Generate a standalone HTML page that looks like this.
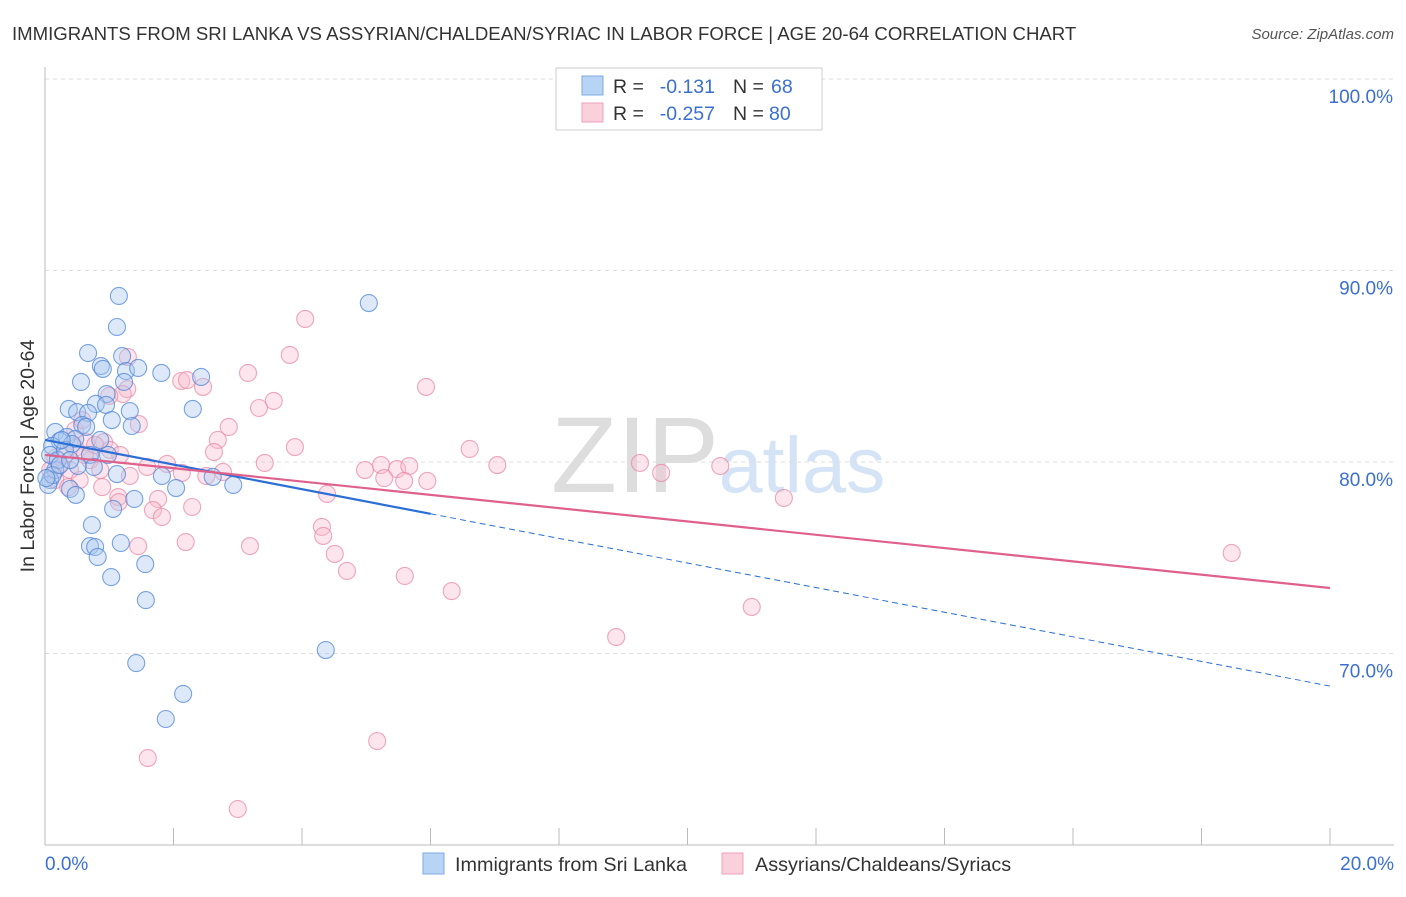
<!DOCTYPE html>
<html><head><meta charset="utf-8"><style>
body{margin:0;background:#fff;font-family:"Liberation Sans",sans-serif}
svg text{font-family:"Liberation Sans",sans-serif}
</style></head><body>
<svg id="c" width="1406" height="892">
<text x="12" y="40" font-size="18.6" fill="#333">IMMIGRANTS FROM SRI LANKA VS ASSYRIAN/CHALDEAN/SYRIAC IN LABOR FORCE | AGE 20-64 CORRELATION CHART</text>
<text x="1394" y="39" font-size="15" fill="#555" font-style="italic" text-anchor="end">Source: ZipAtlas.com</text>
<text x="635" y="492" font-size="108" fill="#ddd" font-family="Liberation Serif" text-anchor="middle">ZIP</text>
<text x="802" y="492" font-size="79" fill="#d4e3f5" text-anchor="middle">atlas</text>
<text transform="translate(34,456) rotate(-90)" font-size="19.6" fill="#333" text-anchor="middle">In Labor Force | Age 20-64</text>
<g id="grid"></g><g id="marks"></g><g id="lines"></g>
<g>
<rect x="556" y="68" width="266" height="62" fill="#fff" stroke="#ccc"/>
<rect x="582" y="76" width="21" height="19" fill="#b8d4f5" stroke="#7fa9e0"/>
<text x="613" y="93" font-size="19.5" fill="#333">R =</text>
<text x="715" y="93" font-size="19.5" fill="#3b6fd1" text-anchor="end">-0.131</text>
<text x="733" y="93" font-size="19.5" fill="#333">N =</text>
<text x="771" y="93" font-size="19.5" fill="#3b6fd1">68</text>
<rect x="582" y="103" width="21" height="19" fill="#fbd0dd" stroke="#eea0b8"/>
<text x="613" y="120" font-size="19.5" fill="#333">R =</text>
<text x="715" y="120" font-size="19.5" fill="#3b6fd1" text-anchor="end">-0.257</text>
<text x="733" y="120" font-size="19.5" fill="#333">N =</text>
<text x="769" y="120" font-size="19.5" fill="#3b6fd1">80</text>
</g>
<g>
<rect x="423" y="853" width="21" height="21" fill="#b8d4f5" stroke="#7fa9e0"/>
<text x="455" y="871" font-size="19.8" fill="#333">Immigrants from Sri Lanka</text>
<rect x="722" y="853" width="21" height="21" fill="#fbd0dd" stroke="#eea0b8"/>
<text x="755" y="871" font-size="19.8" fill="#333">Assyrians/Chaldeans/Syriacs</text>
</g>
</svg>
<script>
const yTicks=[100,90,80,70];
const xTickVals=[0,2,4,6,8,10,12,14,16,18,20];
const blueX=[1.15,1.12,0.67,1.20,0.87,0.90,1.26,1.45,1.81,2.43,0.56,1.23,0.96,0.79,0.95,0.37,0.50,0.67,1.32,2.30,1.04,0.58,0.64,1.35,0.16,0.34,0.47,0.23,0.11,0.42,0.98,0.70,0.76,0.51,0.16,0.08,0.05,1.12,1.82,2.61,2.04,2.93,0.39,0.48,1.39,1.06,0.73,1.18,0.70,0.78,0.82,1.56,1.03,1.57,1.42,2.15,1.88,4.37,5.04,0.08,0.20,0.31,0.12,0.23,0.02,0.39,0.26,0.86];
const blueY=[88.67,87.05,85.69,85.53,85.01,84.86,84.75,84.91,84.65,84.44,84.18,84.18,83.55,83.03,82.98,82.77,82.61,82.56,82.66,82.77,82.19,81.93,81.83,81.88,81.57,81.31,81.20,81.10,80.84,80.94,80.37,80.37,79.74,79.79,79.58,79.06,78.80,79.37,79.27,79.22,78.64,78.80,78.59,78.28,78.07,77.55,76.71,75.77,75.61,75.56,75.04,74.67,73.99,72.79,69.50,67.89,66.58,70.18,88.30,80.37,80.10,80.63,79.32,79.84,79.16,80.10,81.15,81.15];
const pinkX=[4.05,3.81,5.93,3.16,2.12,2.21,1.29,2.46,1.28,1.21,1.00,3.56,3.33,2.86,1.46,2.69,6.61,3.89,0.92,0.64,0.47,0.58,2.63,3.42,7.04,9.26,10.51,9.59,1.90,1.59,2.13,2.51,2.77,4.98,5.23,5.48,5.67,5.28,5.59,5.95,1.32,0.89,1.14,1.76,4.39,1.15,1.68,1.82,2.29,11.50,4.31,4.33,4.51,4.70,1.45,2.19,3.19,5.60,6.33,18.47,11.00,8.89,5.17,1.60,3.00,0.23,0.39,0.16,0.08,0.31,0.54,0.70,0.86,0.47,0.62,0.78,1.01,1.17,0.16,0.36];
const pinkY=[87.47,85.59,83.92,84.65,84.23,84.28,85.48,83.92,83.81,83.55,83.45,83.19,82.82,81.83,81.98,81.15,80.68,80.78,81.04,81.04,81.67,82.19,80.52,79.95,79.84,79.95,79.79,79.43,79.90,79.74,79.43,79.27,79.48,79.58,79.84,79.63,79.79,79.16,79.01,79.01,79.27,78.69,78.17,78.07,78.33,77.91,77.49,77.13,77.65,78.12,76.61,76.14,75.20,74.31,75.61,75.82,75.61,74.05,73.26,75.25,72.43,70.86,65.43,64.54,61.88,79.84,79.58,80.21,79.58,80.37,79.06,80.10,79.58,80.73,80.37,80.89,80.63,80.37,79.06,78.69];
const blueTrend=[81.15,68.3];
const blueSolidEnd=6.0;
const pinkTrend=[80.37,73.42];

const X=v=>45+v*64.25, Y=v=>79+(100-v)*19.15;
const NS="http://www.w3.org/2000/svg";
function mk(t,a,p){const e=document.createElementNS(NS,t);for(const k in a)e.setAttribute(k,a[k]);p.appendChild(e);return e;}
const grid=document.getElementById('grid'),marks=document.getElementById('marks'),lines=document.getElementById('lines');
yTicks.forEach(t=>{
 const l=mk('line',{x1:45,x2:1394,y1:Y(t),y2:Y(t),stroke:'#ddd','stroke-dasharray':'4,4'},grid);
 
 
 const tx=mk('text',{x:1393,y:Y(t)+24,'font-size':19,fill:'#3b6fd1','text-anchor':'end'},grid);
 tx.textContent=t.toFixed(1)+'%';
 
 
});
const ax=mk('line',{x1:45,x2:45,y1:67,y2:845,stroke:'#bbb'},grid);


const bx=mk('line',{x1:45,x2:1394,y1:845,y2:845,stroke:'#bbb'},grid);


xTickVals.forEach(t=>{
 const l=mk('line',{x1:X(t),x2:X(t),y1:828,y2:845,stroke:'#bbb'},grid);
 
 
});
[[0,'start',45],[20,'end',1394]].forEach(([v,a,x])=>{
 const tx=mk('text',{x:x,y:870,'font-size':19,fill:'#3b6fd1','text-anchor':a},grid);
 tx.textContent=v.toFixed(1)+'%';
 
 
});
function pts(xs,ys,f,s,n){xs.forEach((x,i)=>{
 const c=mk('circle',{cx:X(x),cy:Y(ys[i]),r:8.5,fill:f,'fill-opacity':0.4,stroke:s,'stroke-opacity':0.75,'stroke-width':1.1},marks);
 
 
});}
pts(pinkX,pinkY,'#f8bfd0','#e98aa8','point-assyrians');
pts(blueX,blueY,'#aac9f0','#4f86d8','point-sri-lanka');
const bAt=v=>blueTrend[0]+(blueTrend[1]-blueTrend[0])*v/20;
const b1=mk('line',{x1:X(0),y1:Y(bAt(0)),x2:X(blueSolidEnd),y2:Y(bAt(blueSolidEnd)),stroke:'#2a6ed6','stroke-width':2.2},lines);


const b2=mk('line',{x1:X(blueSolidEnd),y1:Y(bAt(blueSolidEnd)),x2:X(20),y2:Y(bAt(20)),stroke:'#2a6ed6','stroke-width':1,'stroke-dasharray':'6,4'},lines);


const p1=mk('line',{x1:X(0),y1:Y(pinkTrend[0]),x2:X(20),y2:Y(pinkTrend[1]),stroke:'#e0608c','stroke-width':2.2},lines);


</script>
</body></html>
